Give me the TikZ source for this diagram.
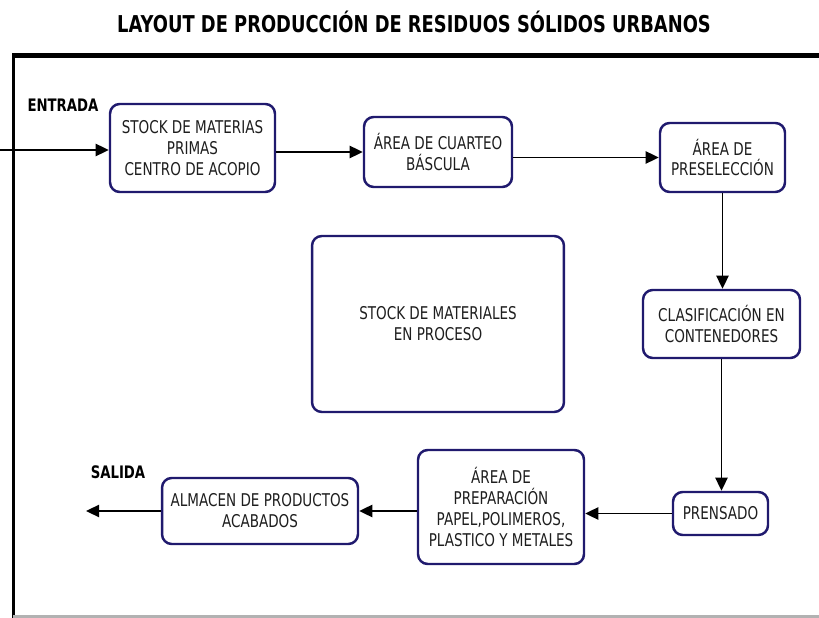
\documentclass[tikz,border=0pt]{standalone}
\usepackage{fontspec}
\setmainfont{DejaVu Sans}
\newfontfamily\boxfont[FakeStretch=0.77]{DejaVu Sans}
\usetikzlibrary{arrows.meta}
\definecolor{navy}{RGB}{32,26,110}
\definecolor{ink}{RGB}{30,30,30}

\begin{document}
\begin{tikzpicture}[
		x=0.02cm, y=-0.02cm,
		>={Triangle[length=7.5pt, width=7pt]},
		every node/.style={font=\boxfont\fontsize{10}{11.9}\selectfont, align=center, text=ink},
		box/.style={rectangle, rounded corners=5.5pt, draw=navy, line width=1.4pt, fill=white},
		tag/.style={font=\boxfont\bfseries\fontsize{9.8}{11}\selectfont, text=black},
		arr/.style={->, line width=1pt}
	]
	\useasboundingbox (0,0) rectangle (819,618);

	% marco
	\node[font=\boxfont\bfseries\fontsize{13.2}{15}\selectfont, text=black] (title) at (414,22) {LAYOUT DE PRODUCCIÓN DE RESIDUOS SÓLIDOS URBANOS};
	\draw[line width=2.6pt] (12,55.5) -- (819,55.5);
	\draw[line width=1.5pt] (13.5,55) -- (13.5,618);
	\draw[line width=1.2pt, gray!60] (13,616.5) -- (819,616.5);

	\node[box, minimum width=3.30cm, minimum height=1.76cm] (stock) at (192.5,148) {STOCK DE MATERIAS\\PRIMAS\\CENTRO DE ACOPIO};
	\node[box, minimum width=2.96cm, minimum height=1.40cm] (cuarteo) at (438,152) {ÁREA DE CUARTEO\\BÁSCULA};
	\node[box, minimum width=2.50cm, minimum height=1.38cm] (presel) at (722.5,157.5) {ÁREA DE\\PRESELECCIÓN};
	\node[box, minimum width=3.14cm, minimum height=1.36cm] (clasif) at (721.5,324) {CLASIFICACIÓN EN\\CONTENEDORES};
	\node[box, minimum width=5.04cm, minimum height=3.52cm] (proceso) at (438,324) {STOCK DE MATERIALES\\EN PROCESO};
	\node[box, minimum width=1.90cm, minimum height=0.86cm] (prensa) at (720.5,513.5) {PRENSADO};
	\node[box, minimum width=3.32cm, minimum height=2.28cm] (prep) at (501,507) {ÁREA DE\\PREPARACIÓN\\PAPEL,POLIMEROS,\\PLASTICO Y METALES};
	\node[box, minimum width=3.92cm, minimum height=1.32cm] (almacen) at (260,511) {ALMACEN DE PRODUCTOS\\ACABADOS};

	\node[tag] (entrada) at (63,105) {ENTRADA};
	\node[tag] (salida) at (118,472) {SALIDA};
	\coordinate (in) at (0,150);
	\coordinate (out) at (86,511);

	\draw[arr] (in) -- (in -| stock.west);
	\draw[arr] (stock.east |- cuarteo.west) -- (cuarteo.west);
	\draw[arr] (cuarteo.east |- presel.west) -- (presel.west);
	\draw[arr] (presel.south) -- (presel.south |- clasif.north);
	\draw[arr] (clasif.south) -- (clasif.south |- prensa.north);
	\draw[arr] (prensa.west) -- (prensa.west -| prep.east);
	\draw[arr] (prep.west |- almacen.east) -- (almacen.east);
	\draw[arr] (almacen.west) -- (out);
\end{tikzpicture}
\end{document}
